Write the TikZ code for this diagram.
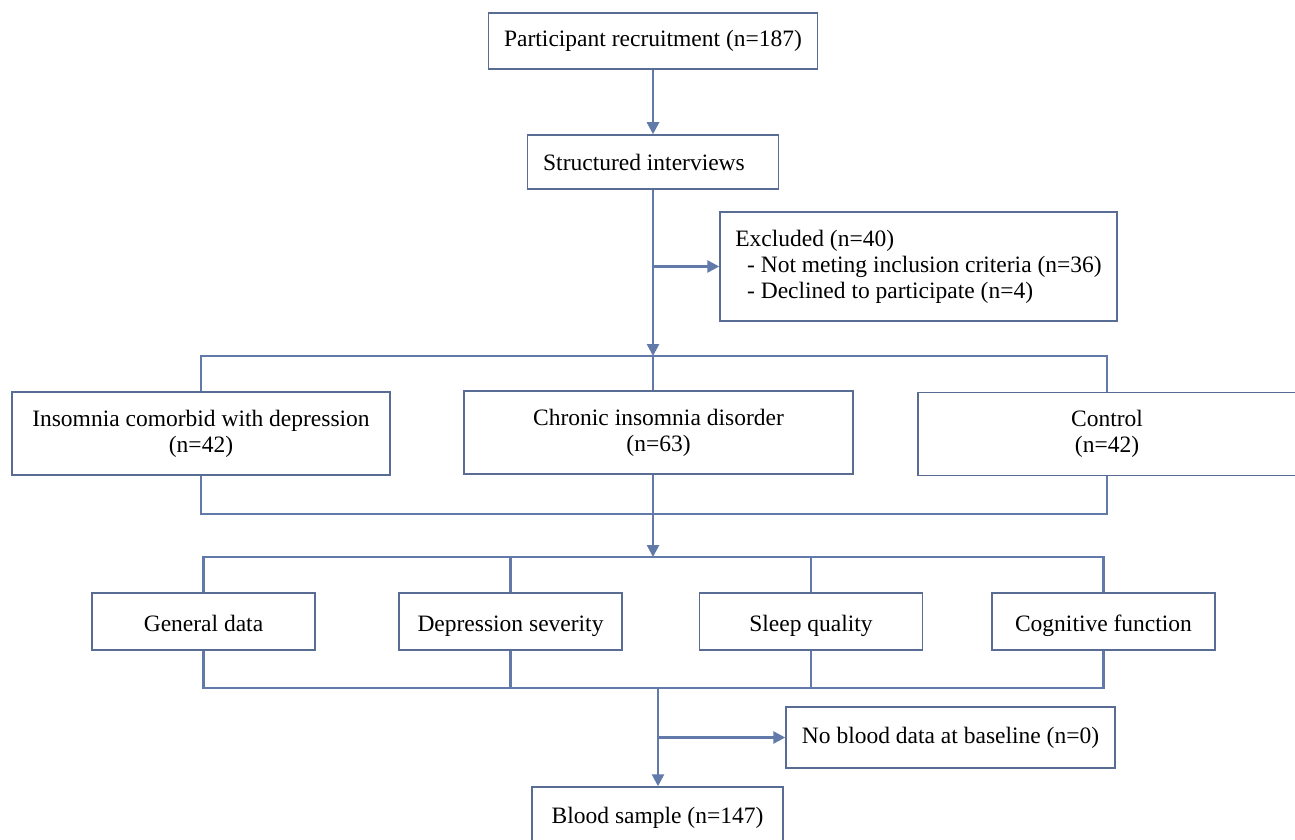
\documentclass[tikz,border=0pt]{standalone}
\usepackage{fontspec}
\setmainfont{Liberation Serif}
\usetikzlibrary{arrows.meta,positioning,calc}
\definecolor{flowblue}{RGB}{98,122,170}
\definecolor{boxblue}{RGB}{88,108,148}

\begin{document}
\begin{tikzpicture}[
  x=0.5pt, y=-0.5pt,
  >={Triangle[length=6pt,width=6pt]},
  every node/.style={font=\fontsize{11.75}{13}\selectfont},
  box/.style={draw=boxblue, line width=0.75pt, align=center, inner sep=0pt},
  grp/.style={box, minimum width=189pt, minimum height=41.5pt},
  meas/.style={box, minimum width=111.5pt, minimum height=28.5pt,
               text height=9.5pt, text depth=0pt},
  link/.style={draw=flowblue, line width=1.3pt},
]
\useasboundingbox (0,0) rectangle (1295,840);

% screening
\node[box, minimum width=164.5pt, minimum height=28pt] (rec) at (653,41) {Participant recruitment (n=187)};
\node[box, minimum width=125.5pt, minimum height=27pt] (intv) at (653,162) {Structured interviews\hspace*{9pt}};
\node[box, align=left, minimum width=198.5pt, minimum height=54.5pt] (excl) at (918.5,266.5)
  {Excluded (n=40)\\\hspace*{0.5em}- Not meting inclusion criteria (n=36)\\\hspace*{0.5em}- Declined to participate (n=4)};

% groups
\node[grp] (ins) at (201,433.5) {Insomnia comorbid with depression\\(n=42)};
\node[grp, minimum width=194.5pt] (chr) at (658.5,432.5) {Chronic insomnia disorder\\(n=63)};
\node[grp] (ctl) at (1107,434) {Control\\(n=42)};

% assessments
\node[meas] (gen) at (203.5,621.5) {General data};
\node[meas] (dep) at (510.5,621.5) {Depression severity};
\node[meas] (slp) at (811,621.5) {Sleep quality};
\node[meas] (cog) at (1103.5,621.5) {Cognitive function};

% blood
\node[box, minimum width=164.5pt, minimum height=30.5pt] (nob) at (950.5,737.5) {No blood data at baseline (n=0)};
\node[box, minimum width=125.5pt, minimum height=31pt] (bld) at (657.5,818) {Blood sample (n=147)};

\coordinate (s1) at (653,356);
\coordinate (j1) at (653,514);
\coordinate (s2) at (653,557);
\coordinate (j2) at (658,688);

\draw[link,->] (rec) -- (intv);
\draw[link,->] (intv.south -| s1) -- (s1);
\draw[link,->] (s1 |- excl.west) -- (excl.west);
\draw[link] (ins.north) |- (s1) -| (ctl.north);
\draw[link] (s1) -- (s1 |- chr.north);
\draw[link] (ins.south) |- (j1) -| (ctl.south);
\draw[link] (s1 |- chr.south) -- (j1);
\draw[link,->] (j1) -- (s2);
\draw[link] (gen.north) |- (s2) -| (cog.north);
\draw[link] (dep.north) -- (dep.north |- s2);
\draw[link] (slp.north) -- (slp.north |- s2);
\draw[link] (gen.south) |- (j2) -| (cog.south);
\draw[link] (dep.south) -- (dep.south |- j2);
\draw[link] (slp.south) -- (slp.south |- j2);
\draw[link,->] (j2) -- (j2 |- bld.north);
\draw[link,->] (j2 |- nob.west) -- (nob.west);
\end{tikzpicture}
\end{document}
